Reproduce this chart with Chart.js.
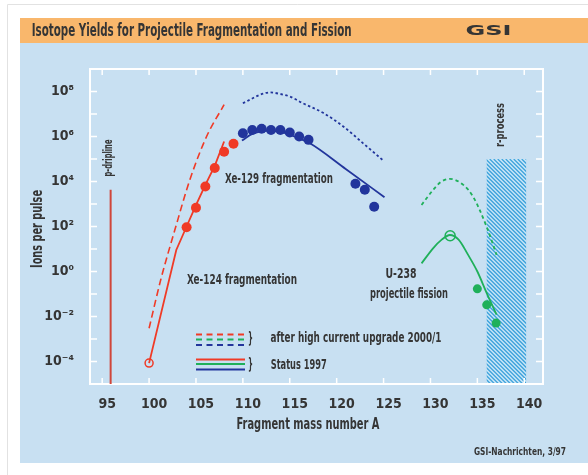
<!DOCTYPE html>
<html>
<head>
<meta charset="utf-8">
<script src="https://cdn.jsdelivr.net/npm/chart.js@4.4.0/dist/chart.umd.min.js"></script>
<style>
  html, body { margin: 0; padding: 0; background: #fff; }
  canvas { display: block; }
</style>
</head>
<body>
<canvas id="isotopeChart" width="588" height="475"></canvas>
<script>
// measured points (mass number A, ions per pulse)
const xe124DotsA = [104, 105, 106, 107, 108, 109];
const xe124DotsY = [93, 680, 6.0e3, 4.0e4, 2.1e5, 4.8e5];
const xe129DotsA = [110, 111, 112, 113, 114, 115, 116, 117, 122, 123, 124];
const xe129DotsY = [1.4e6, 1.95e6, 2.2e6, 1.95e6, 1.95e6, 1.5e6, 1.0e6, 7.1e5, 7.9e3, 4.3e3, 7.6e2];
const u238DotsA = [135, 136, 137];
const u238DotsY = [0.17, 0.033, 0.0051];
const xe124OpenA = [100];
const xe124OpenY = [8.5e-5];
const u238OpenA = [132.1];
const u238OpenY = [39];

// status 1997 curves
const xe124LineA = [100, 102.9, 104, 105, 106, 107, 108];
const xe124LineY = [8.5e-5, 9.1, 100, 890, 7.1e3, 5.0e4, 6.0e5];
const xe129LineA = [109.9, 111, 112.5, 114, 115.5, 117.1, 121, 125.1];
const xe129LineY = [6.6e5, 1.3e6, 1.8e6, 1.6e6, 1.0e6, 5.1e5, 3.5e4, 2.0e3];
const u238LineA = [129.05, 130.3, 131.2, 132.07, 133, 134, 135, 136, 137.05];
const u238LineY = [2.3, 11, 26, 42, 26, 5.6, 1.0, 0.11, 0.012];

// after high current upgrade 2000/1
const xe124UpgA = [100, 101.26, 102.75, 104.35, 106.13, 108];
const xe124UpgY = [3.0e-3, 0.46, 71, 1.2e4, 1.0e6, 2.6e7];
const xe129UpgA = [110, 110.75, 111.8, 112.9, 113.9, 115, 116.4, 118.6, 120.7, 122.8, 125];
const xe129UpgY = [3.0e7, 4.3e7, 7.1e7, 9.1e7, 7.9e7, 6.0e7, 3.0e7, 1.1e7, 2.8e6, 5.1e5, 8.3e4];
const u238UpgA = [129.05, 130.3, 131.1, 132.07, 133.5, 134.55, 135.98, 137.05];
const u238UpgY = [910, 4.3e3, 9.5e3, 1.3e4, 7.1e3, 2.1e3, 100, 5.5];

// p-dripline and r-process band
const pDriplineA = [95.9, 95.9];
const pDriplineY = [4.3e3, 1e-5];
const rProcessA = [136, 140.2];
const rProcessY = [1e-5, 1e5];

// axes
const xTicks = [95, 100, 105, 110, 115, 120, 125, 130, 135, 140];
const yLabelExps = [-4, -2, 0, 2, 4, 6, 8];
const yDecades = [-5, -4, -3, -2, -1, 0, 1, 2, 3, 4, 5, 6, 7, 8, 9];

const FONT = "'Liberation Sans Narrow', 'DejaVu Sans Condensed', 'Roboto', sans-serif";
const INK = '#353535';
const RED = '#f03a26';
const BLUE = '#22359c';
const GREEN = '#1fb05a';

const pts = (xs, ys) => xs.map((x, i) => ({ x: x, y: ys[i] }));
const SUP = { '-': '\u207B', '0': '\u2070', '1': '\u00B9', '2': '\u00B2', '3': '\u00B3', '4': '\u2074',
              '5': '\u2075', '6': '\u2076', '7': '\u2077', '8': '\u2078', '9': '\u2079' };
const sup = n => String(n).split('').map(c => SUP[c]).join('');

// draw text squeezed/stretched to a given width, centred on (cx, cy)
function fitText(ctx, text, cx, cy, w, size, rot) {
    ctx.save();
    ctx.font = 'bold ' + size + 'px ' + FONT;
    const sx = w / ctx.measureText(text).width;
    ctx.translate(cx, cy);
    if (rot) ctx.rotate(-Math.PI / 2);
    ctx.scale(sx, 1);
    ctx.fillStyle = INK;
    ctx.textAlign = 'center';
    ctx.textBaseline = 'middle';
    ctx.fillText(text, 0, 0);
    ctx.restore();
}

const pagePlugin = {
    id: 'page',
    beforeDraw(chart) {
        const ctx = chart.ctx;
        ctx.save();
        ctx.fillStyle = '#fff';
        ctx.fillRect(0, 0, 588, 475);
        ctx.strokeStyle = '#e2e2e2';
        ctx.lineWidth = 1;
        ctx.beginPath();
        ctx.moveTo(7.5, 475); ctx.lineTo(7.5, 4.5); ctx.lineTo(588, 4.5);
        ctx.stroke();
        ctx.fillStyle = '#f9b76c';
        ctx.fillRect(20, 18, 568, 25);
        ctx.fillStyle = '#c8e0f2';
        ctx.fillRect(20, 43, 568, 420);
        ctx.restore();

        fitText(ctx, 'Isotope Yields for Projectile Fragmentation and Fission', 191.7, 31.5, 320, 18);
        fitText(ctx, 'GSI', 488.5, 31, 46, 14);
        fitText(ctx, 'Ions per pulse', 38, 229, 78, 16, true);
        fitText(ctx, 'Fragment mass number A', 308, 425, 143, 16);
        fitText(ctx, 'GSI-Nachrichten, 3/97', 520, 452, 92, 11);
    },
    beforeDatasetsDraw(chart) {
        const ctx = chart.ctx;
        const xs = chart.scales.x, ys = chart.scales.y;
        const a = chart.chartArea;

        // r-process band, hatched
        const x0 = xs.getPixelForValue(rProcessA[0]), x1 = xs.getPixelForValue(rProcessA[1]);
        const y0 = ys.getPixelForValue(rProcessY[1]), y1 = ys.getPixelForValue(rProcessY[0]);
        ctx.save();
        ctx.beginPath();
        ctx.rect(x0, y0, x1 - x0, y1 - y0);
        ctx.clip();
        ctx.fillStyle = '#cbe7f7';
        ctx.fillRect(x0, y0, x1 - x0, y1 - y0);
        ctx.strokeStyle = '#3fa3dc';
        ctx.lineWidth = 1.3;
        ctx.beginPath();
        for (let s = x0 - (y1 - y0); s < x1 + 5; s += 4) {
            ctx.moveTo(s, y0);
            ctx.lineTo(s + (y1 - y0), y1);
        }
        ctx.stroke();
        ctx.restore();

        // white frame with inward ticks
        ctx.save();
        ctx.strokeStyle = '#fff';
        ctx.lineWidth = 2;
        ctx.strokeRect(a.left, a.top, a.right - a.left, a.bottom - a.top);
        ctx.lineWidth = 1.5;
        ctx.beginPath();
        xTicks.forEach(v => {
            const px = xs.getPixelForValue(v);
            ctx.moveTo(px, a.bottom); ctx.lineTo(px, a.bottom - 6);
            ctx.moveTo(px, a.top); ctx.lineTo(px, a.top + 6);
        });
        yDecades.forEach(e => {
            const py = ys.getPixelForValue(Math.pow(10, e));
            ctx.moveTo(a.left, py); ctx.lineTo(a.left + 7, py);
            ctx.moveTo(a.right, py); ctx.lineTo(a.right - 7, py);
        });
        ctx.stroke();
        ctx.restore();
    },
    afterDraw(chart) {
        const ctx = chart.ctx;
        fitText(ctx, 'p-dripline', 109, 158, 37, 13, true);
        fitText(ctx, 'r-process', 501, 125, 44, 13, true);
        fitText(ctx, 'Xe-129 fragmentation', 279, 179, 108, 14);
        fitText(ctx, 'Xe-124 fragmentation', 242, 280, 110, 14);
        fitText(ctx, 'U-238', 401, 274, 31, 14);
        fitText(ctx, 'projectile fission', 409, 294, 78, 14);

        // legend
        ctx.save();
        ctx.lineWidth = 2;
        [[RED, 334.5], [GREEN, 339.5], [BLUE, 345]].forEach(([c, y]) => {
            ctx.strokeStyle = c;
            ctx.setLineDash([6, 4.5]);
            ctx.beginPath(); ctx.moveTo(196, y); ctx.lineTo(245, y); ctx.stroke();
        });
        ctx.setLineDash([]);
        [[RED, 359.5], [GREEN, 364], [BLUE, 369.5]].forEach(([c, y]) => {
            ctx.strokeStyle = c;
            ctx.beginPath(); ctx.moveTo(196, y); ctx.lineTo(245, y); ctx.stroke();
        });
        ctx.restore();
        fitText(ctx, '}', 250.5, 338.5, 5, 16);
        fitText(ctx, '}', 250.5, 364.5, 5, 16);
        fitText(ctx, 'after high current upgrade 2000/1', 356, 338, 171, 14);
        fitText(ctx, 'Status 1997', 298.7, 365, 56, 14);
    }
};

const lineSet = (xs, ys, color, width, dash, order) => ({
    data: pts(xs, ys),
    showLine: true,
    borderColor: color,
    borderWidth: width,
    borderDash: dash,
    pointRadius: 0,
    cubicInterpolationMode: 'monotone',
    order: order
});
const dotSet = (xs, ys, color, r) => ({
    data: pts(xs, ys),
    showLine: false,
    pointRadius: r,
    backgroundColor: color,
    borderColor: color,
    borderWidth: 0,
    order: 0
});
const ringSet = (xs, ys, color, r) => ({
    data: pts(xs, ys),
    showLine: false,
    pointRadius: r,
    backgroundColor: 'rgba(0,0,0,0)',
    borderColor: color,
    borderWidth: 1.5,
    order: 0
});

const ctx = document.getElementById('isotopeChart').getContext('2d');
new Chart(ctx, {
    type: 'scatter',
    data: {
        datasets: [
            lineSet(pDriplineA, pDriplineY, '#d0463a', 2, [], 2),
            lineSet(xe124UpgA, xe124UpgY, RED, 1.6, [7, 4], 2),
            lineSet(xe129UpgA, xe129UpgY, BLUE, 1.8, [2.5, 2.5], 2),
            lineSet(u238UpgA, u238UpgY, GREEN, 1.8, [3.5, 3], 2),
            Object.assign(lineSet(xe124LineA, xe124LineY, RED, 1.8, [], 1), { cubicInterpolationMode: 'default', tension: 0 }),
            lineSet(xe129LineA, xe129LineY, BLUE, 1.8, [], 1),
            lineSet(u238LineA, u238LineY, GREEN, 1.8, [], 1),
            dotSet(xe124DotsA, xe124DotsY, RED, 5),
            dotSet(xe129DotsA, xe129DotsY, BLUE, 5),
            dotSet(u238DotsA, u238DotsY, GREEN, 4.5),
            ringSet(xe124OpenA, xe124OpenY, RED, 4),
            ringSet(u238OpenA, u238OpenY, GREEN, 5)
        ]
    },
    options: {
        responsive: false,
        devicePixelRatio: 1,
        animation: false,
        layout: { autoPadding: false, padding: { left: 0, top: 69, right: 45, bottom: 0 } },
        plugins: {
            legend: { display: false },
            title: { display: false },
            tooltip: { enabled: false }
        },
        scales: {
            x: {
                type: 'linear',
                min: 93.7,
                max: 142,
                grid: { display: false },
                border: { display: false },
                afterFit: s => { s.height = 91; },
                afterBuildTicks: s => { s.ticks = xTicks.map(v => ({ value: v })); },
                ticks: {
                    padding: 4,
                    labelOffset: 5,
                    color: INK,
                    font: { family: FONT, size: 14, weight: 'bold' }
                }
            },
            y: {
                type: 'logarithmic',
                min: 1e-5,
                max: 1e9,
                grid: { display: false },
                border: { display: false },
                afterFit: s => { s.width = 90; },
                afterBuildTicks: s => { s.ticks = yLabelExps.map(e => ({ value: Math.pow(10, e) })); },
                ticks: {
                    padding: 8,
                    color: INK,
                    font: { family: FONT, size: 14, weight: 'bold' },
                    callback: v => '10' + sup(Math.round(Math.log10(v)))
                }
            }
        }
    },
    plugins: [pagePlugin]
});
</script>
</body>
</html>
